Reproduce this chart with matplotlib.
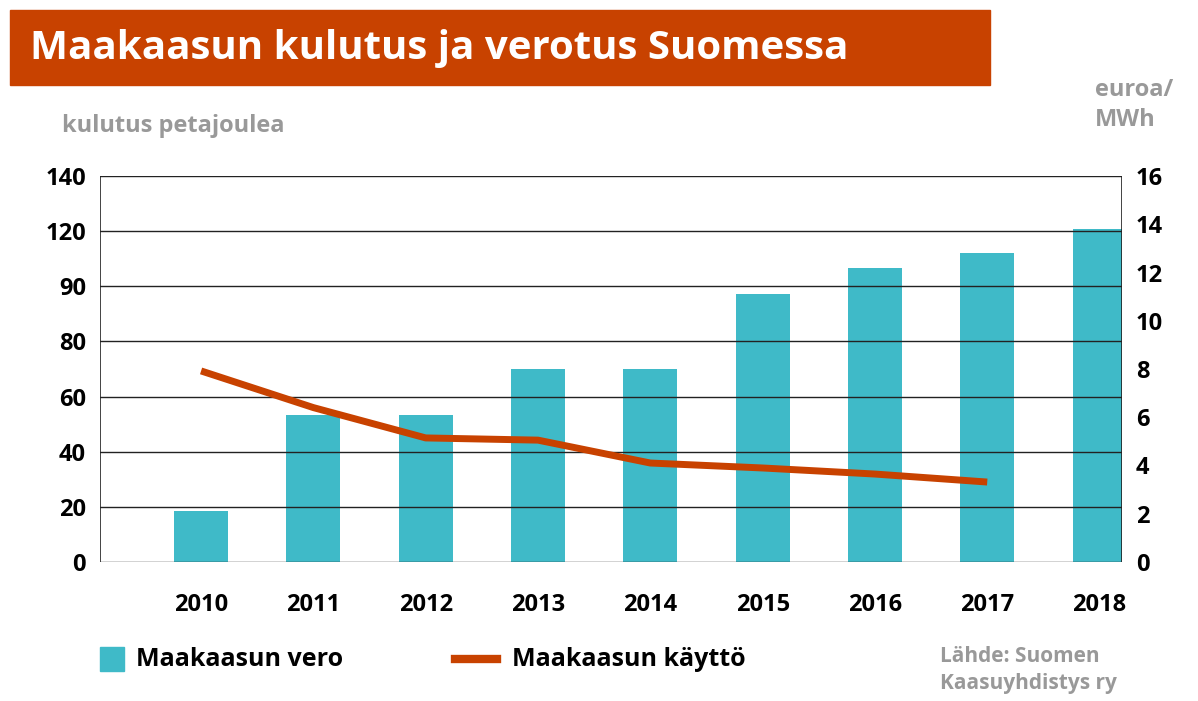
import matplotlib
matplotlib.use("Agg")
import matplotlib.pyplot as plt
from matplotlib.patches import Rectangle
from matplotlib.lines import Line2D

years = ["2010","2011","2012","2013","2014","2015","2016","2017","2018"]
vero = [2.1, 6.1, 6.1, 8.0, 8.0, 11.1, 12.2, 12.8, 13.8]
kaytto_years = years[:8]
kaytto = [69.3, 56.0, 45.0, 44.2, 35.9, 34.1, 31.9, 29.0]
left_ticks = [0, 20, 40, 60, 80, 100, 120, 140]
left_labels = ["0","20","40","60","80","90","120","140"]
right_ticks = list(range(0, 17, 2))

W, H = 1198, 701
fig = plt.figure(figsize=(W/100, H/100), dpi=100)
plt.rcParams["font.family"] = "Open Sans"
teal = "#3fbac8"; orange = "#c84200"; grey = "#999999"

ax = fig.add_axes([100/W, 1-562/H, 1022/W, 386/H])
ax2 = ax.twinx()
x = list(range(len(years)))
ax2.bar(x, vero, width=0.48, color=teal, zorder=2)
ax2.set_ylim(0, 16)
ax.set_ylim(0, 140)
ax.set_xlim(-0.9, 8.2)
ax.plot(list(range(len(kaytto_years))), kaytto, color=orange, lw=5, solid_capstyle="butt", zorder=5)
ax.set_zorder(ax2.get_zorder()+1); ax.patch.set_visible(False)
ax.set_yticks(left_ticks); ax.set_yticklabels(left_labels)
ax2.set_yticks(right_ticks)
ax.set_xticks(x); ax.set_xticklabels(years)
for a in (ax, ax2):
    a.tick_params(length=0, labelsize=17, pad=10)
    for s in a.spines.values(): s.set_visible(False)
for t in ax.get_xticklabels(): t.set_fontweight("bold")
for t in ax.get_yticklabels()+ax2.get_yticklabels(): t.set_fontweight("bold")
ax.tick_params(axis="x", pad=22)
ax.grid(axis="y", color="#222222", lw=1, zorder=0)
ax.axvline(-0.9, color="#222222", lw=1.2)
ax.axvline(8.2, color="#222222", lw=1.2)

fig.patches.append(Rectangle((10/W, 1-85/H), 980/W, 75/H, transform=fig.transFigure, color=orange))
fig.text(30/W, 1-48/H, "Maakaasun kulutus ja verotus Suomessa", color="white", fontsize=29, fontweight="bold", va="center")
fig.text(62/W, 1-126/H, "kulutus petajoulea", color=grey, fontsize=17, fontweight="bold", va="center")
fig.text(1095/W, 1-105/H, "euroa/\nMWh", color=grey, fontsize=17, fontweight="bold", va="center", linespacing=1.3)

fig.patches.append(Rectangle((100/W, 1-671/H), 24/W, 24/H, transform=fig.transFigure, color=teal))
fig.text(136/W, 1-659/H, "Maakaasun vero", fontsize=18, fontweight="bold", va="center")
fig.lines.append(Line2D([455/W, 497/W], [1-659/H]*2, transform=fig.transFigure, color=orange, lw=6))
fig.text(512/W, 1-659/H, "Maakaasun käyttö", fontsize=18, fontweight="bold", va="center")
fig.text(940/W, 1-670/H, "Lähde: Suomen\nKaasuyhdistys ry", color=grey, fontsize=15, fontweight="bold", va="center", linespacing=1.4)
fig.savefig("out.png", dpi=100, facecolor="white")
